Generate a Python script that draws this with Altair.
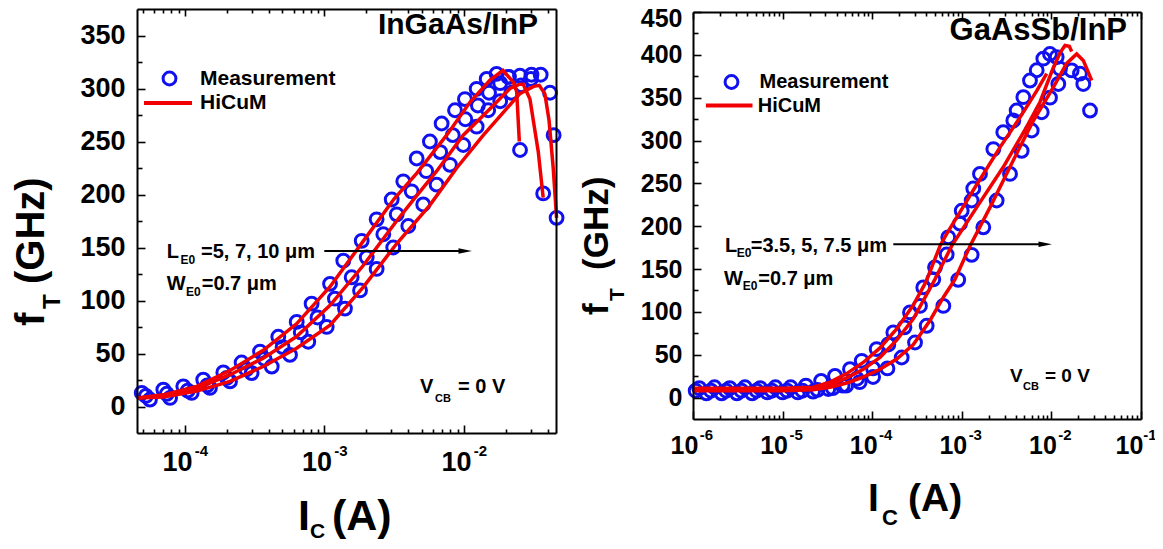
import altair as alt
import pandas as pd

# ------------------------------------------------------------------
# DATA  (log10 of collector current I_C in A, and f_T in GHz)
# ------------------------------------------------------------------
# Left panel: InGaAs/InP   (L_E0 = 5, 7, 10 um)
L_meas_A_logIc = [-4.31, -4.155, -4.012, -3.869, -3.725, -3.594, -3.462, -3.331, -3.199, -3.092,
                  -2.96, -2.865, -2.733, -2.626, -2.518, -2.435, -2.339, -2.244, -2.16, -2.064,
                  -1.993, -1.909, -1.837, -1.766, -1.683, -1.598]
L_meas_A_fT = [12.8, 15.9, 19, 25.3, 32.1, 41.5, 51.8, 65.8, 79.8, 97,
               115.7, 137.6, 156.3, 176.6, 195.3, 212.4, 234, 250, 267, 279.5,
               290, 299.7, 309, 313.8, 311, 242]
L_meas_B_logIc = [-4.28, -4.13, -3.98, -3.84, -3.70, -3.56, -3.43, -3.30, -3.17, -3.05,
                  -2.925, -2.805, -2.697, -2.578, -2.482, -2.375, -2.27, -2.17, -2.08, -1.99,
                  -1.90, -1.82, -1.74, -1.677, -1.598, -1.516, -1.432]
L_meas_B_fT = [10, 12, 15, 20, 27, 35, 45, 56, 70, 84,
               101.7, 121.9, 140.7, 162.5, 181.3, 203, 222, 240, 256, 271,
               284, 296, 305, 311, 312, 313, 201]
L_meas_C_logIc = [-4.251, -4.107, -3.952, -3.821, -3.677, -3.522, -3.378, -3.247, -3.116, -2.984,
                  -2.853, -2.745, -2.626, -2.507, -2.399, -2.292, -2.196, -2.10, -2.005, -1.909,
                  -1.826, -1.74, -1.66, -1.59, -1.52, -1.45, -1.383, -1.357, -1.336]
L_meas_C_fT = [6.5, 8.1, 12.8, 17.5, 23.7, 31.5, 37.7, 48.7, 61.1, 75.1,
               92.4, 109.5, 129.8, 150, 170.3, 190.6, 209.3, 228, 246.7, 264,
               279.5, 288, 296, 303, 309, 313, 296, 256, 178]

L_model_A_logIc = [-4.344, -4.155, -3.916, -3.677, -3.439, -3.2, -2.96, -2.722, -2.5, -2.339,
                   -2.124, -1.957, -1.813, -1.72, -1.646, -1.622, -1.603]
L_model_A_fT = [8, 11, 19, 34, 53, 78, 113, 156, 196, 220,
                256, 287, 308, 317, 306, 297, 250]
L_model_B_logIc = [-4.344, -4.155, -3.916, -3.677, -3.439, -3.2, -2.96, -2.722, -2.483, -2.363,
                   -2.196, -2.005, -1.813, -1.67, -1.60, -1.575, -1.527, -1.467, -1.432]
L_model_B_fT = [8, 10, 17, 30, 45.6, 66, 95.5, 133, 175, 195,
                222, 256, 281, 300, 304, 304, 290, 240, 197]
L_model_C_logIc = [-4.344, -4.155, -3.916, -3.677, -3.439, -3.2, -2.96, -2.722, -2.483, -2.244,
                   -2.052, -1.861, -1.694, -1.60, -1.50, -1.46, -1.42, -1.39, -1.36, -1.336]
L_model_C_fT = [8, 9, 14.5, 23.7, 37.7, 55, 76.7, 112.6, 153.5, 190,
                225, 256, 281, 295, 302, 303, 295, 270, 225, 178]

# Right panel: GaAsSb/InP   (L_E0 = 3.5, 5, 7.5 um)
R_meas_A_logIc = [-5.93, -5.76, -5.59, -5.42, -5.25, -5.08, -4.91, -4.74, -4.57, -4.415,
                  -4.248, -4.117, -3.95, -3.764, -3.578, -3.43, -3.299, -3.151, -3.001, -2.872,
                  -2.797, -2.648, -2.537, -2.425, -2.313, -2.239, -2.164, -2.090, -2.016, -1.941]
R_meas_A_fT = [11, 12, 11, 12, 11, 12, 12, 14, 19.5, 25.3,
               33.2, 42.9, 56.6, 76, 99.4, 128.6, 152, 187, 218, 244,
               261, 290, 309.7, 323.4, 350.6, 370, 382, 395.5, 401, 397.4]
R_meas_B_logIc = [-5.85, -5.68, -5.51, -5.34, -5.17, -5.0, -4.83, -4.66, -4.49, -4.33,
                  -4.17, -3.99, -3.82, -3.64, -3.467, -3.318, -3.169, -3.02, -2.89, -2.388,
                  -1.904, -1.774, -1.681, -1.644, -1.569]
R_meas_B_fT = [5, 5, 5, 5, 6, 6, 6, 7, 10, 14,
               22, 34, 62, 82, 107, 138, 167, 203, 230, 335,
               383.8, 381.8, 378, 366, 335]
R_meas_C_logIc = [-5.97, -5.80, -5.63, -5.46, -5.29, -5.12, -4.95, -4.78, -4.61, -4.44,
                  -4.29, -4.14, -3.99, -3.83, -3.671, -3.522, -3.392, -3.206, -3.04, -2.89,
                  -2.76, -2.611, -2.462, -2.332, -2.220, -2.108, -2.016, -1.923]
R_meas_C_fT = [8, 8, 8, 8, 8, 8, 8, 8, 9, 11,
               14, 18, 24, 34, 46.8, 64.3, 83.8, 107, 137.4, 166.6,
               198.7, 230, 261, 288, 311.7, 333, 350, 366]

R_model_A_logIc = [-6, -5.5, -5.0, -4.657, -4.47, -4.285, -4.1, -3.913, -3.727, -3.541,
                   -3.40, -3.243, -3.169, -3.0, -2.872, -2.574, -2.35, -2.164, -2.053]
R_model_A_fT = [11, 11, 11, 12, 18, 28, 41, 58, 80, 108,
                135, 177, 191, 220, 242, 292, 327, 358, 378]
R_model_B_logIc = [-6, -5.5, -5.0, -4.657, -4.47, -4.285, -4.1, -3.913, -3.727, -3.541,
                   -3.30, -3.113, -2.834, -2.537, -2.276, -2.127, -1.979, -1.90, -1.848, -1.80, -1.774]
R_model_B_fT = [9.5, 9.5, 9.5, 11, 15, 23, 33, 47, 67, 92,
                138, 177, 222, 269, 316, 345, 385, 403, 411, 410, 404]
R_model_C_logIc = [-6, -5.5, -5.0, -4.657, -4.47, -4.285, -4.1, -3.913, -3.727, -3.541,
                   -3.355, -3.2, -3.076, -2.908, -2.685, -2.425, -2.202, -1.979, -1.83, -1.718,
                   -1.644, -1.55]
R_model_C_fT = [8, 8, 8, 9, 12, 17, 24, 33, 45, 62,
                90, 118, 138, 177, 222, 277, 323, 362, 390, 401,
                393.5, 370]

# axis tick values
L_X_MAJOR = [1e-4, 1e-3, 1e-2]
L_X_MINOR = [5e-5, 6e-5, 7e-5, 8e-5, 9e-5, 2e-4, 3e-4, 4e-4, 5e-4, 6e-4, 7e-4, 8e-4, 9e-4,
             2e-3, 3e-3, 4e-3, 5e-3, 6e-3, 7e-3, 8e-3, 9e-3, 2e-2, 3e-2, 4e-2]
L_Y_MAJOR = [0, 50, 100, 150, 200, 250, 300, 350]
L_Y_MINOR = [25, 75, 125, 175, 225, 275, 325]
R_X_MAJOR = [1e-6, 1e-5, 1e-4, 1e-3, 1e-2, 1e-1]
R_X_MINOR = [m * d for d in [1e-6, 1e-5, 1e-4, 1e-3, 1e-2] for m in [2, 3, 4, 5, 6, 7, 8, 9]]
R_Y_MAJOR = [0, 50, 100, 150, 200, 250, 300, 350, 400, 450]
R_Y_MINOR = [25, 75, 125, 175, 225, 275, 325, 375, 425]

# ------------------------------------------------------------------
FONT = "Liberation Sans"
BLUE = "#1010f0"
RED = "#f00000"
VW, VH = 1147, 533
M = 8


def P(v):
    return v - M


def series_df(parts, kind):
    rows = []
    for name, logs, vals in parts:
        for l, v in zip(logs, vals):
            rows.append({"Ic": 10 ** l, "fT": v, "s": name, "k": kind})
    return pd.DataFrame(rows)


def txt(s, x, y, size, align="left", baseline="alphabetic", angle=0):
    return alt.Chart(pd.DataFrame({"t": [s]})).mark_text(
        font=FONT, fontWeight="bold", fontSize=size, align=align,
        baseline=baseline, angle=angle, color="black"
    ).encode(x=alt.value(P(x)), y=alt.value(P(y)), text="t:N")


def arrow(xa, xb, y):
    d = pd.DataFrame({"a": [0]})
    line = alt.Chart(d).mark_rule(color="black", strokeWidth=2).encode(
        x=alt.value(P(xa)), x2=alt.value(P(xb - 10)), y=alt.value(P(y)))
    head = alt.Chart(d).mark_point(
        shape="M-1,-0.42L1,0L-1,0.42Z", filled=True, color="black", size=180,
        opacity=1, strokeWidth=0
    ).encode(x=alt.value(P(xb - 6.5)), y=alt.value(P(y)))
    return [line, head]


def panel(meas, model, xdom, ydom, rect, xmaj, xmin, ymaj, ymin, lab, leg):
    x0, y0, x1, y1 = [P(v) for v in rect]

    def X(axis):
        return alt.X("Ic:Q", scale=alt.Scale(type="log", domain=xdom, range=[x0, x1], nice=False),
                     axis=axis)

    def Y(axis):
        return alt.Y("fT:Q", scale=alt.Scale(type="linear", domain=ydom, range=[y1, y0],
                                             nice=False, zero=False), axis=axis)

    base = dict(title=None, grid=False, labelFlush=False, labelOverlap=False, labelBound=False)
    frame = dict(domain=True, domainColor="black", domainWidth=2, zindex=2)
    nolab = dict(labels=False, domain=False, tickColor="black", tickWidth=1.6, zindex=2)

    ax_x10 = alt.Axis(orient="bottom", offset=-(VH - y1), values=xmaj, labelExpr="'10'",
                      labelFont=FONT, labelFontWeight="bold", labelFontSize=lab["fs10"],
                      labelColor="black", labelPadding=lab["pad10"], labelOffset=lab["dx10"],
                      labelAngle=0, ticks=False, **frame, **base)
    ax_xexp = alt.Axis(orient="bottom", offset=-(VH - y1), values=xmaj,
                       labelExpr="'' + round(log(datum.value) / LN10)",
                       labelFont=FONT, labelFontWeight="bold", labelFontSize=lab["fsexp"],
                       labelColor="black", labelPadding=lab["padexp"], labelOffset=lab["dxexp"],
                       labelAngle=0, ticks=False, domain=False, **base)
    ax_xin_maj = alt.Axis(orient="top", offset=-y1, values=xmaj, ticks=True, tickSize=8, **nolab, **base)
    ax_xin_min = alt.Axis(orient="top", offset=-y1, values=xmin, ticks=True, tickSize=4, **nolab, **base)
    ax_xtop_min = alt.Axis(orient="bottom", offset=-(VH - y0), values=xmin, ticks=True, tickSize=4,
                           labels=False, tickColor="black", tickWidth=1.6, **frame, **base)
    ax_xtop_maj = alt.Axis(orient="bottom", offset=-(VH - y0), values=xmaj, ticks=True, tickSize=7,
                           **nolab, **base)

    ax_ylab = alt.Axis(orient="left", offset=-x0, values=ymaj, labelFont=FONT,
                       labelFontWeight="bold", labelFontSize=lab["fsy"], labelColor="black",
                       labelPadding=lab["pady"], labelOffset=lab["yoff"], ticks=False,
                       **frame, **base)
    ax_yin_maj = alt.Axis(orient="right", offset=-(VW - x0), values=ymaj, ticks=True, tickSize=8,
                          **nolab, **base)
    ax_yin_min = alt.Axis(orient="right", offset=-(VW - x0), values=ymin, ticks=True, tickSize=5,
                          **nolab, **base)
    ax_yright = alt.Axis(orient="right", offset=-(VW - x1), values=ymaj, ticks=False,
                         labels=False, **frame, **base)

    pts = alt.Chart(meas).mark_point(
        shape="circle", filled=False, color=BLUE, strokeWidth=3, size=165, opacity=1
    ).encode(
        x=X(ax_xexp), y=Y(ax_yin_maj), detail="s:N",
        shape=alt.Shape("k:N", scale=alt.Scale(domain=["Measurement"], range=["circle"]),
                        legend=alt.Legend(orient="none", legendX=P(leg["mx"]), legendY=P(leg["my"]),
                                          title=None, padding=0, labelFont=FONT,
                                          labelFontWeight="bold", labelFontSize=leg["fs"],
                                          labelColor="black", labelOffset=leg["mlo"],
                                          symbolSize=165, symbolStrokeWidth=3,
                                          symbolStrokeColor=BLUE, symbolFillColor="transparent"))
    )
    lines = alt.Chart(model).mark_line(strokeWidth=3.5).encode(
        x=X(ax_x10), y=Y(ax_ylab), detail="s:N",
        color=alt.Color("k:N", scale=alt.Scale(domain=["HiCuM"], range=[RED]),
                        legend=alt.Legend(orient="none", legendX=P(leg["lx"]), legendY=P(leg["ly"]),
                                          title=None, padding=0, labelFont=FONT,
                                          labelFontWeight="bold", labelFontSize=leg["fs"],
                                          labelColor="black", labelOffset=leg["llo"],
                                          symbolType="stroke", symbolSize=leg["lsize"],
                                          symbolStrokeWidth=4))
    )
    d1 = alt.Chart(model).mark_line(opacity=0).encode(x=X(ax_xin_maj), y=Y(ax_yin_min), detail="s:N")
    d2 = alt.Chart(model).mark_line(opacity=0).encode(x=X(ax_xin_min), y=Y(ax_yright), detail="s:N")
    d3 = alt.Chart(model).mark_line(opacity=0).encode(x=X(ax_xtop_min), y=Y(None), detail="s:N")
    d4 = alt.Chart(model).mark_line(opacity=0).encode(x=X(ax_xtop_maj), y=Y(None), detail="s:N")
    return [pts, lines, d1, d2, d3, d4]


L_meas = series_df([("5", L_meas_A_logIc, L_meas_A_fT), ("7", L_meas_B_logIc, L_meas_B_fT),
                    ("10", L_meas_C_logIc, L_meas_C_fT)], "Measurement")
L_model = series_df([("5", L_model_A_logIc, L_model_A_fT), ("7", L_model_B_logIc, L_model_B_fT),
                     ("10", L_model_C_logIc, L_model_C_fT)], "HiCuM")
R_meas = series_df([("3.5", R_meas_A_logIc, R_meas_A_fT), ("5", R_meas_B_logIc, R_meas_B_fT),
                    ("7.5", R_meas_C_logIc, R_meas_C_fT)], "Measurement")
R_model = series_df([("3.5", R_model_A_logIc, R_model_A_fT), ("5", R_model_B_logIc, R_model_B_fT),
                     ("7.5", R_model_C_logIc, R_model_C_fT)], "HiCuM")

left = panel(
    L_meas, L_model, [4.53e-5, 0.0457], [-25, 375], (137, 9, 556, 433),
    L_X_MAJOR, L_X_MINOR, L_Y_MAJOR, L_Y_MINOR,
    dict(fs10=27, pad10=16, dx10=-8, fsexp=15, padexp=10, dxexp=16, fsy=27, pady=12, yoff=0),
    dict(mx=159, my=68, mlo=20, lx=142, ly=77, llo=6, lsize=2304, fs=21),
)
right = panel(
    R_meas, R_model, [1e-6, 1e-1], [-25, 450], (693, 12, 1141, 419),
    R_X_MAJOR, R_X_MINOR, R_Y_MAJOR, R_Y_MINOR,
    dict(fs10=25, pad10=14,
         dx10={"condition": {"test": "datum.value > 0.05", "value": -12}, "value": -9},
         fsexp=15, padexp=8,
         dxexp={"condition": {"test": "datum.value > 0.05", "value": 8.5}, "value": 13},
         fsy=25, pady=11,
         yoff={"condition": {"test": "datum.value == 450", "value": 6}, "value": 0}),
    dict(mx=721.5, my=72, mlo=18, lx=703.7, ly=80, llo=3, lsize=2172, fs=20),
)

texts = [
    # left panel
    txt("InGaAs/InP", 538, 34, 30, align="right"),
    txt("L", 166.7, 258.3, 20), txt("E0", 180.5, 263.5, 12), txt("=5, 7, 10 μm", 201, 258.3, 20),
    txt("W", 166.7, 290, 20), txt("E0", 186, 295.5, 12), txt("=0.7 μm", 201.7, 290, 20),
    txt("V", 420, 393, 20), txt("CB", 435, 401.7, 11), txt("= 0 V", 458, 393, 20),
    txt("f", 44, 326, 40, angle=270), txt("T", 60, 309, 24, angle=270),
    txt("(GHz)", 44, 284, 40, angle=270),
    txt("I", 298, 530, 43), txt("C", 310, 537.5, 21), txt("(A)", 332, 530, 43),
    # right panel
    txt("GaAsSb/InP", 1127, 40, 31, align="right"),
    txt("L", 725, 251.7, 20), txt("E0", 736.7, 257, 12), txt("=3.5, 5, 7.5 μm", 750.7, 251.7, 20),
    txt("W", 724, 285, 20), txt("E0", 742.7, 290, 12), txt("=0.7 μm", 758.3, 285, 20),
    txt("V", 1010, 381.7, 19), txt("CB", 1023, 390, 11), txt("= 0 V", 1045, 381.7, 19),
    txt("f", 607.5, 315, 35, angle=270), txt("T", 624, 301, 21, angle=270),
    txt("(GHz)", 607.5, 270, 35, angle=270),
    txt("I", 868, 511, 39), txt("C", 882, 525, 22), txt("(A)", 908, 511, 39),
]
arrows = arrow(324.3, 471.7, 251) + arrow(893.3, 1051.7, 244.3)

chart = alt.layer(*left, *right, *arrows, *texts).resolve_scale(
    x="independent", y="independent", shape="independent", color="independent"
).resolve_axis(x="independent", y="independent").resolve_legend(
    shape="independent", color="independent"
).properties(
    width=VW, height=VH, padding=0, autosize=alt.AutoSizeParams(type="none")
).configure_view(stroke=None)

chart.save("out.html", embed_options={"renderer": "svg", "actions": False})
